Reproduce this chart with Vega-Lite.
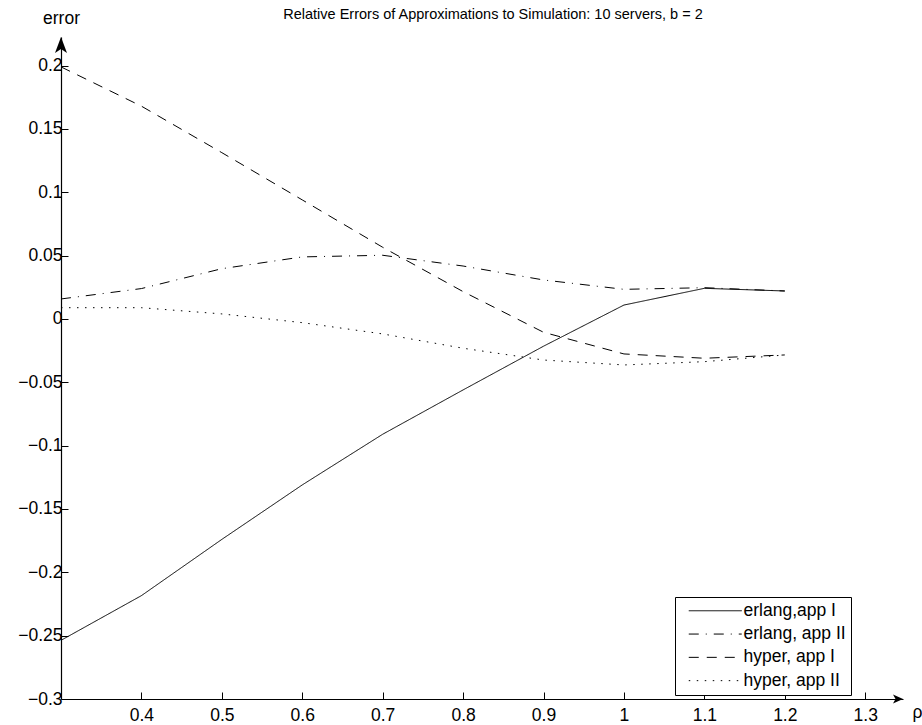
{
  "$schema": "https://vega.github.io/schema/vega-lite/v6.json",
  "width": 842,
  "height": 662,
  "autosize": {"type": "none"},
  "padding": {"left": 61, "top": 37, "right": 19, "bottom": 26},
  "background": "white",
  "config": {"view": {"stroke": null}, "font": "Liberation Sans"},
  "title": {"text": "Relative Errors of Approximations to Simulation: 10 servers,  b = 2", "fontSize": 14.5, "fontWeight": "normal", "font": "Liberation Sans", "anchor": "middle", "baseline": "alphabetic", "offset": -24, "dx": 11, "color": "black"},
  "layer": [
    {
      "data": {"values": [
        {"rho": 0.3, "error": -0.2537, "series": "erlang,app I"},
        {"rho": 0.4, "error": -0.2184, "series": "erlang,app I"},
        {"rho": 0.5, "error": -0.174, "series": "erlang,app I"},
        {"rho": 0.6, "error": -0.131, "series": "erlang,app I"},
        {"rho": 0.7, "error": -0.091, "series": "erlang,app I"},
        {"rho": 0.8, "error": -0.056, "series": "erlang,app I"},
        {"rho": 0.9, "error": -0.0215, "series": "erlang,app I"},
        {"rho": 1.0, "error": 0.011, "series": "erlang,app I"},
        {"rho": 1.1, "error": 0.0242, "series": "erlang,app I"},
        {"rho": 1.2, "error": 0.0221, "series": "erlang,app I"},
        {"rho": 0.3, "error": 0.0158, "series": "erlang, app II"},
        {"rho": 0.4, "error": 0.024, "series": "erlang, app II"},
        {"rho": 0.5, "error": 0.0397, "series": "erlang, app II"},
        {"rho": 0.6, "error": 0.049, "series": "erlang, app II"},
        {"rho": 0.7, "error": 0.0503, "series": "erlang, app II"},
        {"rho": 0.8, "error": 0.0418, "series": "erlang, app II"},
        {"rho": 0.9, "error": 0.0308, "series": "erlang, app II"},
        {"rho": 1.0, "error": 0.0234, "series": "erlang, app II"},
        {"rho": 1.1, "error": 0.0247, "series": "erlang, app II"},
        {"rho": 1.2, "error": 0.0221, "series": "erlang, app II"},
        {"rho": 0.3, "error": 0.199, "series": "hyper, app I"},
        {"rho": 0.4, "error": 0.168, "series": "hyper, app I"},
        {"rho": 0.5, "error": 0.1313, "series": "hyper, app I"},
        {"rho": 0.6, "error": 0.094, "series": "hyper, app I"},
        {"rho": 0.7, "error": 0.0566, "series": "hyper, app I"},
        {"rho": 0.8, "error": 0.0216, "series": "hyper, app I"},
        {"rho": 0.9, "error": -0.0105, "series": "hyper, app I"},
        {"rho": 1.0, "error": -0.0276, "series": "hyper, app I"},
        {"rho": 1.1, "error": -0.031, "series": "hyper, app I"},
        {"rho": 1.2, "error": -0.0284, "series": "hyper, app I"},
        {"rho": 0.3, "error": 0.0089, "series": "hyper, app II"},
        {"rho": 0.4, "error": 0.0089, "series": "hyper, app II"},
        {"rho": 0.5, "error": 0.004, "series": "hyper, app II"},
        {"rho": 0.6, "error": -0.0029, "series": "hyper, app II"},
        {"rho": 0.7, "error": -0.0118, "series": "hyper, app II"},
        {"rho": 0.8, "error": -0.0231, "series": "hyper, app II"},
        {"rho": 0.9, "error": -0.0324, "series": "hyper, app II"},
        {"rho": 1.0, "error": -0.0363, "series": "hyper, app II"},
        {"rho": 1.1, "error": -0.0337, "series": "hyper, app II"},
        {"rho": 1.2, "error": -0.0284, "series": "hyper, app II"}
      ]},
      "mark": {"type": "line", "color": "black", "strokeWidth": 1},
      "encoding": {
        "x": {"field": "rho", "type": "quantitative",
          "scale": {"domain": [0.3, 1.347], "nice": false, "zero": false},
          "axis": {"values": [0.4, 0.5, 0.6, 0.7, 0.8, 0.9, 1.0, 1.1, 1.2, 1.3], "format": "~g", "grid": false,
            "tickSize": -7, "labelPadding": 14, "domainColor": "black", "domainWidth": 1.2, "tickColor": "black", "tickWidth": 1,
            "labelColor": "black", "labelFontSize": 17.5, "labelFont": "Liberation Sans", "labelFlush": false,
            "title": "ρ", "titleAngle": 0, "titleX": 856, "titleY": 18, "titleAlign": "center", "titleBaseline": "alphabetic",
            "titleFontWeight": "normal", "titleFontSize": 17.5, "titleFont": "Liberation Sans", "titleColor": "black"}},
        "y": {"field": "error", "type": "quantitative",
          "scale": {"domain": [-0.3, 0.2226], "nice": false, "zero": false},
          "axis": {"values": [-0.3, -0.25, -0.2, -0.15, -0.1, -0.05, 0, 0.05, 0.1, 0.15, 0.2], "format": "~g", "grid": false,
            "tickSize": -7, "labelPadding": 6, "domainColor": "black", "domainWidth": 1.2, "tickColor": "black", "tickWidth": 1,
            "labelColor": "black", "labelFontSize": 17.5, "labelFont": "Liberation Sans", "labelFlush": false,
            "title": "error", "titleAngle": 0, "titleX": 0, "titleY": -19, "titleAlign": "center", "titleBaseline": "middle",
            "titleFontWeight": "normal", "titleFontSize": 17.5, "titleFont": "Liberation Sans", "titleColor": "black"}},
        "strokeDash": {"field": "series", "type": "nominal",
          "scale": {"domain": ["erlang,app I", "erlang, app II", "hyper, app I", "hyper, app II"],
                    "range": [[1, 0], [10, 7, 1, 7], [10, 8], [1.5, 6.5]]},
          "legend": {"orient": "none", "legendX": 614, "legendY": 560, "title": null, "strokeColor": "black",
            "fillColor": "white", "padding": 5, "symbolType": "M0,0H10.6", "symbolSize": 100, "symbolStrokeWidth": 1,
            "symbolStrokeColor": "black", "symbolFillColor": "transparent", "labelFontSize": 17.5, "labelFont": "Liberation Sans", "labelColor": "black",
            "rowPadding": 4.3, "labelOffset": 46}}
      }
    },
    {
      "data": {"values": [{"rho": 1.3408, "error": -0.3}]},
      "mark": {"type": "point", "shape": "M1,0L-1,-0.9L-0.5,0L-1,0.9Z", "size": 100, "filled": true, "color": "black", "strokeWidth": 0, "opacity": 1},
      "encoding": {
        "x": {"field": "rho", "type": "quantitative", "scale": {"domain": [0.3, 1.347], "nice": false, "zero": false}},
        "y": {"field": "error", "type": "quantitative", "scale": {"domain": [-0.3, 0.2226], "nice": false, "zero": false}}
      }
    },
    {
      "data": {"values": [{"rho": 0.3, "error": 0.2163}]},
      "mark": {"type": "point", "shape": "M0,-1L-0.75,1L0,0.5L0.75,1Z", "size": 256, "filled": true, "color": "black", "strokeWidth": 0, "opacity": 1},
      "encoding": {
        "x": {"field": "rho", "type": "quantitative", "scale": {"domain": [0.3, 1.347], "nice": false, "zero": false}},
        "y": {"field": "error", "type": "quantitative", "scale": {"domain": [-0.3, 0.2226], "nice": false, "zero": false}}
      }
    }
  ]
}
